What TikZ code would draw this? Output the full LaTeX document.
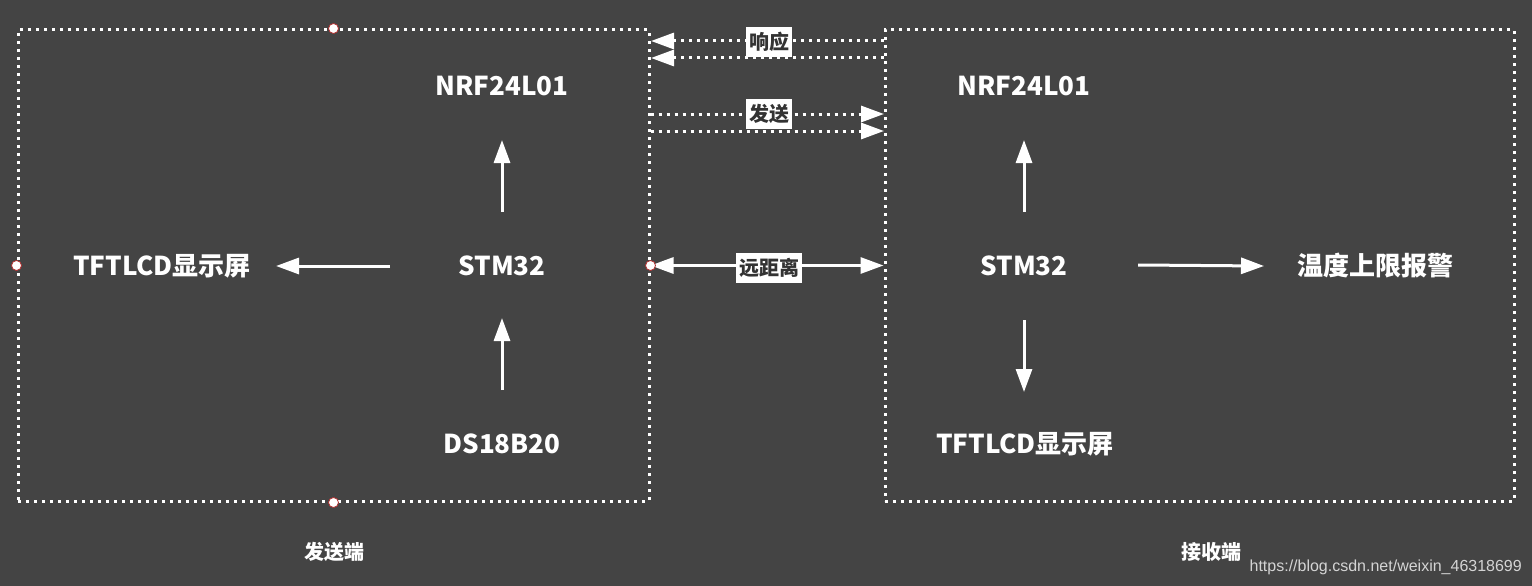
\documentclass[tikz,border=0pt]{standalone}
\usepackage{fontspec}
\usetikzlibrary{arrows.meta}
\newfontfamily\cjk{Noto Sans CJK SC}
\newfontfamily\wm{Liberation Sans}
\definecolor{bg}{HTML}{444444}
\definecolor{tagtext}{HTML}{333333}
\definecolor{wmgray}{HTML}{D4D4D4}
\definecolor{handleedge}{HTML}{B03030}
\begin{document}
\begin{tikzpicture}[x=1pt,y=-1pt,
  lbl/.style={text=white, font=\cjk\bfseries\fontsize{26}{30}\selectfont, inner sep=0pt},
  sidecaption/.style={text=white, font=\cjk\bfseries\fontsize{20}{24}\selectfont, inner sep=0pt},
  tag/.style={fill=white, text=tagtext, font=\cjk\bfseries\fontsize{20}{23}\selectfont, inner sep=0pt, minimum height=30pt, text width=#1, align=center},
  tag/.default=46pt,
  arr/.style={draw=white, line width=3pt, -{Triangle[length=23pt,width=16pt]}},
  darr/.style={draw=white, line width=3pt, {Triangle[length=23pt,width=16pt]}-{Triangle[length=23pt,width=16pt]}},
  dots/.style={draw=white, line width=3pt, dash pattern=on 3pt off 5pt},
  dotarr/.style={dots, -{Triangle[length=23pt,width=16pt]}},
  boxframe/.style={dots, rectangle, inner sep=0pt},
  handle/.style={circle, fill=white, draw=handleedge, line width=0.8pt, minimum size=10pt, inner sep=0pt}
]
\useasboundingbox (0,0) rectangle (1532,586);
\fill[bg] (0,0) rectangle (1532,586);

% frames
\node[boxframe, minimum width=631pt, minimum height=471pt] (L) at (333.5,265.5) {};
\node[boxframe, minimum width=629pt, minimum height=471pt] (R) at (1199.5,265.5) {};

% left side
\node[lbl] (lnrf) at (502,86) {NRF24L01};
\node[lbl] (lstm) at (502,266) {STM32};
\node[lbl] (lds) at (502,444) {DS18B20};
\node[lbl] (ltft) at (162,266) {TFTLCD显示屏};
\coordinate (la1) at (502,212); \coordinate (la1e) at (502,140);
\coordinate (la2) at (390,266); \coordinate (la2e) at (276,266);
\coordinate (la3) at (502,390); \coordinate (la3e) at (502,318);
\draw[arr] (la1) -- (la1e);
\draw[arr] (la2) -- (la2e);
\draw[arr] (la3) -- (la3e);

% right side
\node[lbl] (rnrf) at (1024,86) {NRF24L01};
\node[lbl] (rstm) at (1024,266) {STM32};
\node[lbl] (rtft) at (1025,444) {TFTLCD显示屏};
\node[lbl] (ralarm) at (1375,266) {温度上限报警};
\coordinate (ra1) at (1024,212); \coordinate (ra1e) at (1024,140);
\coordinate (ra2) at (1024,320); \coordinate (ra2e) at (1024,392);
\coordinate (ra3) at (1138,265); \coordinate (ra3e) at (1264,266);
\draw[arr] (ra1) -- (ra1e);
\draw[arr] (ra2) -- (ra2e);
\draw[arr] (ra3) -- (ra3e);

% middle links
\draw[dotarr] (R.west |- 0,41) -- (651,41);
\draw[dotarr] (R.west |- 0,58) -- (651,58);
\draw[dotarr] (L.east |- 0,114) -- (884,114);
\draw[dotarr] (L.east |- 0,131) -- (884,131);
\draw[darr] (L.east) -- (R.west);
\node[tag] (tresp) at (769,42) {响应};
\node[tag] (tsend) at (769,114) {发送};
\node[tag=66pt] (tdist) at (769,268) {远距离};

% selection handles
\node[handle] (h1) at (L.north) {};
\node[handle] (h2) at (L.west) {};
\node[handle] (h3) at (L.south) {};
\node[handle] (h4) at (L.east) {};

% captions
\node[sidecaption] (csend) at (334,552) {发送端};
\node[sidecaption] (crecv) at (1211,552) {接收端};
\node[text=wmgray, font=\wm\fontsize{16}{18}\selectfont, inner sep=0pt, anchor=east] (wmk) at (1522,567) {https://blog.csdn.net/weixin\_46318699};
\end{tikzpicture}
\end{document}
